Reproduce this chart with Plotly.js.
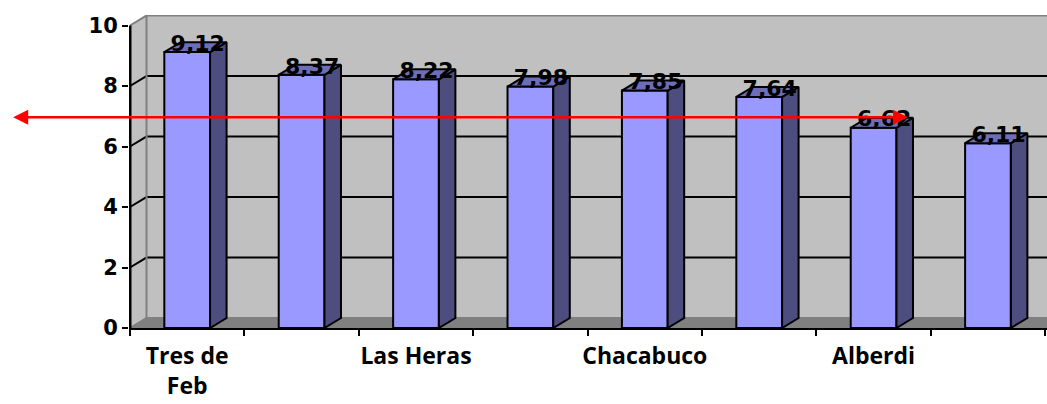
<!DOCTYPE html>
<html>
<head>
<meta charset="utf-8">
<script src="https://cdn.plot.ly/plotly-3.0.1.min.js"></script>
<style>
  html, body { margin: 0; padding: 0; background: #ffffff; }
  #chart { width: 1047px; height: 404px; }
</style>
</head>
<body>
<div id="chart"></div>
<script>
// ---- data ----
const tickLabels = ["Tres de<br>Feb", "", "Las Heras", "", "Chacabuco", "", "Alberdi", ""];
const values = [9.12, 8.37, 8.22, 7.98, 7.85, 7.64, 6.62, 6.11];
const positions = values.map((_, i) => i);
const yTickVals = [0, 2, 4, 6, 8, 10];
const arrowLevel = 6.97;   // red double arrow level
const arrowFrom = -1.534;  // left tip (category units)
const arrowTo = 6.30;      // right tip (category units)

// ---- geometry (3D look) ----
const PXX = 114.4;             // px per category
const DX = 16.5 / PXX;         // depth offset x
const DY = 0.33;               // depth offset y (value units)
const HALF = 0.2;              // half bar width
const X0 = -0.5 - 1 / PXX;
const XMAX = X0 + 918 / PXX;
const YMAX = 313 / 30.25;
const L = -0.5;                // front-left edge of the floor

const fmt = v => v.toFixed(2).replace('.', ',');

const sideX = [], sideY = [];
const topX = [], topY = [];
positions.forEach((p, i) => {
  const v = values[i];
  const r = p + HALF, l = p - HALF;
  sideX.push(r, r + DX, r + DX, r, r, null);
  sideY.push(0, DY, v + DY, v, 0, null);
  topX.push(l, r, r + DX, l + DX, l, null);
  topY.push(v, v, v + DY, v + DY, v, null);
});

const traces = [
  {
    type: 'bar', x: positions, y: values, width: 2 * HALF,
    marker: { color: '#9999FF', line: { color: '#000000', width: 2 } },
    hoverinfo: 'none', showlegend: false
  },
  {
    type: 'scatter', mode: 'lines', x: sideX, y: sideY, fill: 'toself',
    fillcolor: '#4D4D80', line: { color: '#000000', width: 2 },
    hoverinfo: 'none', showlegend: false
  },
  {
    type: 'scatter', mode: 'lines', x: topX, y: topY, fill: 'toself',
    fillcolor: '#6E6EB8', line: { color: '#000000', width: 2 },
    hoverinfo: 'none', showlegend: false
  },
  {
    type: 'scatter', mode: 'text',
    x: positions.map(p => p + DX / 2 + 0.02),
    y: values.map(v => v + DY / 2 + 0.06),
    text: values.map(fmt), textposition: 'middle center',
    textfont: { family: 'DejaVu Sans', size: 22, color: '#000000', weight: 'bold' },
    cliponaxis: false, hoverinfo: 'none', showlegend: false
  }
];

const shapes = [];
shapes.push({ type: 'path', xref: 'x', yref: 'y', layer: 'below',
  path: `M ${L},0 L ${L + DX},${DY} L ${L + DX},${10 + DY} L ${L},10 Z`,
  fillcolor: '#C0C0C0', line: { width: 0 } });
shapes.push({ type: 'rect', xref: 'x', yref: 'y', layer: 'below',
  x0: L + DX, y0: DY, x1: XMAX + 1, y1: 10 + DY,
  fillcolor: '#C0C0C0', line: { width: 0 } });
shapes.push({ type: 'path', xref: 'x', yref: 'y', layer: 'below',
  path: `M ${L},0 L ${XMAX + 1},0 L ${XMAX + 1},${DY} L ${L + DX},${DY} Z`,
  fillcolor: '#808080', line: { width: 0 } });
yTickVals.forEach(v => {
  const edge = (v === 0 || v === 10);
  shapes.push({ type: 'path', xref: 'x', yref: 'y', layer: 'below',
    path: `M ${L},${v} L ${L + DX},${v + DY} L ${XMAX + 1},${v + DY}`,
    line: { color: edge ? '#808080' : '#000000', width: 2 } });
});
shapes.push({ type: 'line', xref: 'x', yref: 'y', layer: 'below',
  x0: L + DX, y0: DY, x1: L + DX, y1: 10 + DY,
  line: { color: '#808080', width: 2 } });
shapes.push({ type: 'line', xref: 'x', yref: 'y', layer: 'above',
  x0: L, y0: 0, x1: L, y1: 10, line: { color: '#000000', width: 3 } });

const layout = {
  width: 1047, height: 404,
  margin: { l: 129, r: 0, t: 15, b: 76, pad: 0 },
  paper_bgcolor: '#ffffff', plot_bgcolor: '#ffffff',
  showlegend: false,
  xaxis: {
    type: 'linear', range: [X0, XMAX], fixedrange: true,
    tickmode: 'array', tickvals: positions, ticktext: tickLabels,
    ticks: '', showgrid: false, zeroline: false,
    showline: true, linecolor: '#000000', linewidth: 2,
    ticklabelstandoff: 6,
    tickfont: { family: 'Open Sans', size: 23, color: '#000000', weight: 'bold' },
    minor: { tickmode: 'linear', tick0: -0.5, dtick: 1, ticks: 'outside',
             ticklen: 6, tickwidth: 2, tickcolor: '#000000', showgrid: false }
  },
  yaxis: {
    range: [0, YMAX], fixedrange: true,
    tickmode: 'array', tickvals: yTickVals, ticktext: yTickVals.map(String),
    ticks: 'outside', ticklen: 6, tickwidth: 2, tickcolor: '#000000',
    showgrid: false, zeroline: false, showline: false,
    tickfont: { family: 'DejaVu Sans', size: 21, color: '#000000', weight: 'bold' }
  },
  shapes: shapes,
  annotations: [{
    xref: 'x', yref: 'y', axref: 'x', ayref: 'y',
    x: arrowTo, y: arrowLevel, ax: arrowFrom, ay: arrowLevel,
    text: '', showarrow: true, arrowside: 'end+start',
    arrowhead: 2, arrowsize: 1.2, arrowwidth: 2.5, arrowcolor: '#FF0000'
  }]
};

Plotly.newPlot('chart', traces, layout, { staticPlot: true, displayModeBar: false });
</script>
</body>
</html>
